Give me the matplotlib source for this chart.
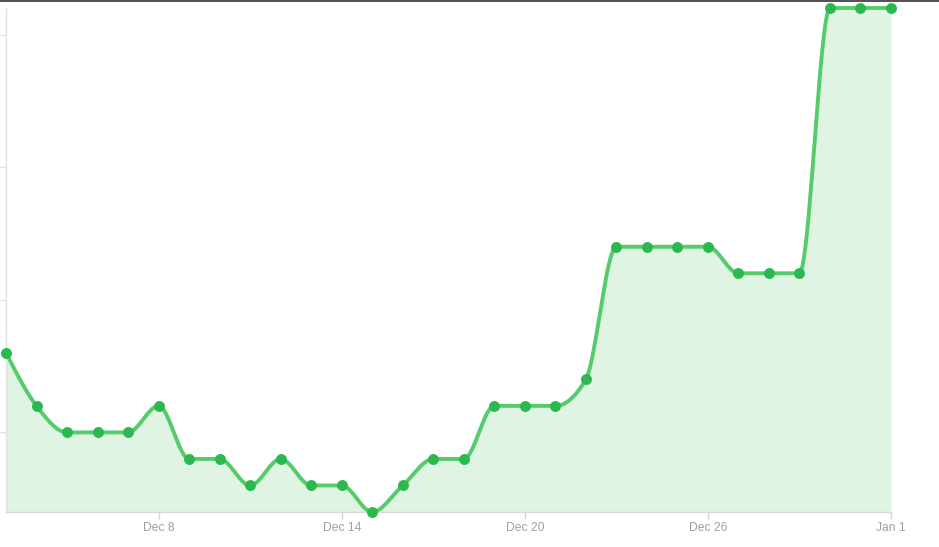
import numpy as np
import matplotlib
matplotlib.use("Agg")
import matplotlib.pyplot as plt

days = ["Dec 3","Dec 4","Dec 5","Dec 6","Dec 7","Dec 8","Dec 9","Dec 10","Dec 11","Dec 12",
        "Dec 13","Dec 14","Dec 15","Dec 16","Dec 17","Dec 18","Dec 19","Dec 20","Dec 21","Dec 22",
        "Dec 23","Dec 24","Dec 25","Dec 26","Dec 27","Dec 28","Dec 29","Dec 30","Dec 31","Jan 1"]
values = [8, 6, 5, 5, 5, 6, 4, 4, 3, 4,
          3, 3, 2, 3, 4, 4, 6, 6, 6, 7,
          12, 12, 12, 12, 11, 11, 11, 21, 21, 21]
tick_labels = ["Dec 8", "Dec 14", "Dec 20", "Dec 26", "Jan 1"]
y_ticks = [5, 10, 15, 20]

def monotone(x, y, n=20):
    x = np.asarray(x, float); y = np.asarray(y, float)
    h = np.diff(x); d = np.diff(y) / h
    m = np.zeros_like(y)
    for i in range(1, len(y) - 1):
        if d[i-1] * d[i] <= 0:
            m[i] = 0
        else:
            s = (d[i-1] * h[i] + d[i] * h[i-1]) / (h[i-1] + h[i])
            m[i] = np.sign(s) * min(abs(s), 2 * min(abs(d[i-1]), abs(d[i])))
    m[0] = (3 * d[0] - m[1]) / 2
    m[-1] = (3 * d[-1] - m[-2]) / 2
    xs, ys = [], []
    for i in range(len(x) - 1):
        t = np.linspace(0, 1, n, endpoint=False)
        h00 = 2*t**3 - 3*t**2 + 1; h10 = t**3 - 2*t**2 + t
        h01 = -2*t**3 + 3*t**2; h11 = t**3 - t**2
        xs.append(x[i] + t*h[i])
        ys.append(h00*y[i] + h10*h[i]*m[i] + h01*y[i+1] + h11*h[i]*m[i+1])
    xs.append([x[-1]]); ys.append([y[-1]])
    return np.concatenate(xs), np.concatenate(ys)

x = np.arange(len(values))
xs, ys = monotone(x, values)

fig = plt.figure(figsize=(9.39, 5.47), dpi=100)
ax = fig.add_axes([6/939, 1 - 512/547, (891-6)/939, (512-8)/547])

line_c = "#55cc6a"
dot_c = "#2bb84f"
fill_c = "#dff4e3"
ax.fill_between(xs, ys, 2, color=fill_c, lw=0, zorder=1)
ax.plot(xs, ys, color=line_c, lw=2.8, zorder=2, solid_capstyle="round", clip_on=False)
ax.scatter(x, values, s=62, color=dot_c, zorder=3, lw=0, clip_on=False)

ax.set_xlim(0, len(values) - 1)
ax.set_ylim(2, 21)
ax.set_xticks([days.index(t) for t in tick_labels])
ax.set_xticklabels(tick_labels)
ax.set_yticks(y_ticks)
ax.set_yticklabels([])
for s in ["top", "right"]:
    ax.spines[s].set_visible(False)
ax.spines["left"].set_color("#e2e2e2")
ax.spines["left"].set_bounds(2, 20.95)
ax.spines["bottom"].set_color("#d8d8d8")
for s in ["left", "bottom"]:
    ax.spines[s].set_linewidth(1)
ax.tick_params(axis="x", colors="#d4d4d4", length=5, width=1, labelcolor="#a0a0a0",
               labelsize=8.7, pad=2)
ax.tick_params(axis="y", colors="#e2e2e2", length=6, width=1)
for l in ax.get_xticklabels():
    l.set_family("Liberation Sans")
ax.patch.set_alpha(0)

fig.add_artist(plt.Line2D([0, 1], [1 - 0.5/547, 1 - 0.5/547], color="#333333", lw=1.2,
                          transform=fig.transFigure))
fig.savefig("out.png", dpi=100)
